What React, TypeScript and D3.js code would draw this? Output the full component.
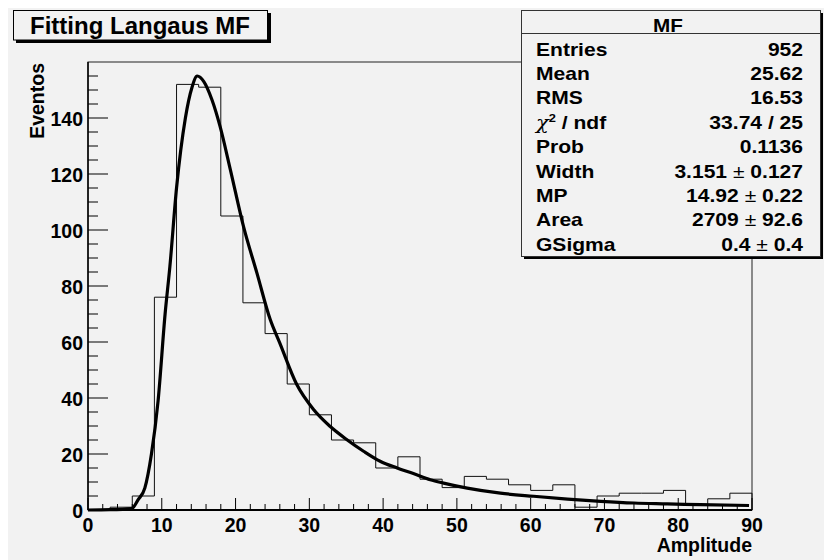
import React from 'react'
import * as d3 from 'd3'

// histogram counts, 30 bins of width 3 over [0, 90]
const binEdges = d3.range(0, 91, 3)
const counts = [0, 1, 5, 76, 152, 151, 105, 74, 63, 45, 34, 25, 24, 15, 19, 11, 8, 12, 11, 9, 7, 9, 1, 5, 6, 6, 7, 2, 4, 6]

// langaus fit curve
const fitX = [0, 3, 5.9, 6.8, 7.7, 8.6, 9.5, 10.45, 11.1, 12.0, 13.2, 14.1, 14.8, 15.7, 16.8, 17.9, 19.3, 21.1, 22.9, 24.7, 26.0, 28.3, 30.6, 32.8, 35.1, 37.4, 39.6, 41.9, 44.1, 46.4, 48.2, 51.4, 55.9, 60.4, 65.0, 69.5, 74.0, 78.5, 83.0, 89.6]
const fitY = [0, 0.1, 0.5, 3.7, 7.8, 20, 39, 70, 87, 115, 140, 151, 155, 153, 146.5, 137, 121.5, 101, 84.6, 68, 59.6, 44.8, 35.8, 29.9, 25.1, 20.9, 17.4, 15, 13, 10.8, 9.6, 7.8, 6.0, 4.9, 3.9, 3.1, 2.5, 2.2, 1.9, 1.6]

const xMajor = d3.range(0, 91, 10)
const yMajor = d3.range(0, 141, 20)

const statLabels = ['Entries', 'Mean', 'RMS', 'chi2', 'Prob', 'Width', 'MP', 'Area', 'GSigma']
const statValues = ['952', '25.62', '16.53', '33.74 / 25', '0.1136', '3.151|0.127', '14.92|0.22', '2709|92.6', '0.4|0.4']

const font = '"Liberation Sans", Arial, Helvetica, sans-serif'
const bg = '#f2f2f2'

function StatValue({ v }: { v: string }) {
  if (v.indexOf('|') < 0) return <>{v}</>
  const [a, b] = v.split('|')
  return <>
    {a}
    <tspan fontWeight="normal">{'\u00a0\u00b1\u00a0'}</tspan>
    {b}
  </>
}

function StatLabel({ l }: { l: string }) {
  if (l !== 'chi2') return <>{l}</>
  return <>
    <tspan fontWeight="normal" fontFamily="'DejaVu Serif', serif" fontStyle="italic">χ</tspan>
    <tspan fontSize={11} dy={-7}>2</tspan>
    <tspan dy={7}>{' / ndf'}</tspan>
  </>
}

export default function App() {
  const width = 824
  const height = 560
  const x = d3.scaleLinear().domain([0, 90]).range([88, 752])
  const y = d3.scaleLinear().domain([0, 160]).range([510, 62])

  // step outline of histogram
  let hist = `M${x(0)},${y(0)}`
  counts.forEach((c, i) => {
    hist += `L${x(binEdges[i])},${y(c)}L${x(binEdges[i + 1])},${y(c)}`
  })
  hist += `L${x(90)},${y(0)}`

  const fitLine = d3.line<number>()
    .x((d, i) => x(fitX[i]))
    .y(d => y(d))
    .curve(d3.curveMonotoneX)

  const xMinor = d3.range(0, 91, 2).filter(v => v % 10 !== 0)
  const yMinor = d3.range(0, 161, 5).filter(v => v % 20 !== 0)

  const statsLeft = 521, statsTop = 10, statsRight = 820, statsBottom = 256
  const rowBase = (i: number) => 55.5 + i * 24.4

  return (
    <svg width={width} height={height} style={{ position: 'absolute', left: 0, top: 0, display: 'block' }}
      fontFamily={font} fontWeight="bold">
      <rect x={0} y={0} width={width} height={height} fill="#fff" />
      <rect x={8} y={8} width={width - 8} height={height - 8} fill={bg} />

      {/* frame */}
      <rect x={x(0)} y={y(160)} width={x(90) - x(0)} height={y(0) - y(160)} fill={bg} stroke="#222" strokeWidth={1} />

      {/* histogram + fit */}
      <path d={hist} fill="none" stroke="#111" strokeWidth={1} />
      <path d={fitLine(fitY) || ''} fill="none" stroke="#000" strokeWidth={3.2} strokeLinejoin="miter" />

      {/* x axis */}
      <line x1={x(0)} x2={x(90)} y1={y(0)} y2={y(0)} stroke="#000" strokeWidth={2} />
      {xMajor.map(v => (
        <g key={'xm' + v}>
          <line x1={x(v)} x2={x(v)} y1={y(0)} y2={y(0) - 12} stroke="#000" />
          <text x={x(v)} y={532} fontSize={19.5} textAnchor="middle">{v}</text>
        </g>
      ))}
      {xMinor.map(v => (
        <line key={'xn' + v} x1={x(v)} x2={x(v)} y1={y(0)} y2={y(0) - 6} stroke="#000" />
      ))}
      <text x={752} y={552} fontSize={19.5} textAnchor="end">Amplitude</text>

      {/* y axis */}
      <line x1={x(0)} x2={x(0)} y1={y(0)} y2={y(160)} stroke="#000" strokeWidth={1.5} />
      {yMajor.map(v => (
        <g key={'ym' + v}>
          <line x1={x(0)} x2={x(0) + 20} y1={y(v)} y2={y(v)} stroke="#000" />
          <text x={83} y={y(v) + 7.5} fontSize={19.5} textAnchor="end">{v}</text>
        </g>
      ))}
      {yMinor.map(v => (
        <line key={'yn' + v} x1={x(0)} x2={x(0) + 10} y1={y(v)} y2={y(v)} stroke="#000" />
      ))}
      <text transform="translate(44,63) rotate(-90)" fontSize={19.5} textAnchor="end">Eventos</text>

      {/* title box */}
      <rect x={16} y={13} width={255} height={30} fill="#000" />
      <rect x={13.5} y={10.5} width={254} height={29.5} fill={bg} stroke="#000" strokeWidth={1} />
      <text x={140} y={33.5} fontSize={24} textAnchor="middle">Fitting Langaus MF</text>

      {/* stats box */}
      <rect x={statsLeft + 3} y={statsTop + 3} width={statsRight - statsLeft} height={statsBottom - statsTop} fill="#000" />
      <rect x={statsLeft + 0.5} y={statsTop + 0.5} width={statsRight - statsLeft} height={statsBottom - statsTop} fill={bg} stroke="#333" strokeWidth={1} />
      <line x1={statsLeft} x2={statsRight} y1={33.5} y2={33.5} stroke="#333" />
      <g transform="translate(668,32) scale(1.15,1)">
        <text x={0} y={0} fontSize={18} textAnchor="middle">MF</text>
      </g>
      {statLabels.map((l, i) => (
        <g key={l}>
          <g transform={`translate(536,${rowBase(i)}) scale(1.17,1)`}>
            <text x={0} y={0} fontSize={18}><StatLabel l={l} /></text>
          </g>
          <g transform={`translate(803,${rowBase(i)}) scale(1.17,1)`}>
            <text x={0} y={0} fontSize={18} textAnchor="end"><StatValue v={statValues[i]} /></text>
          </g>
        </g>
      ))}
    </svg>
  )
}
